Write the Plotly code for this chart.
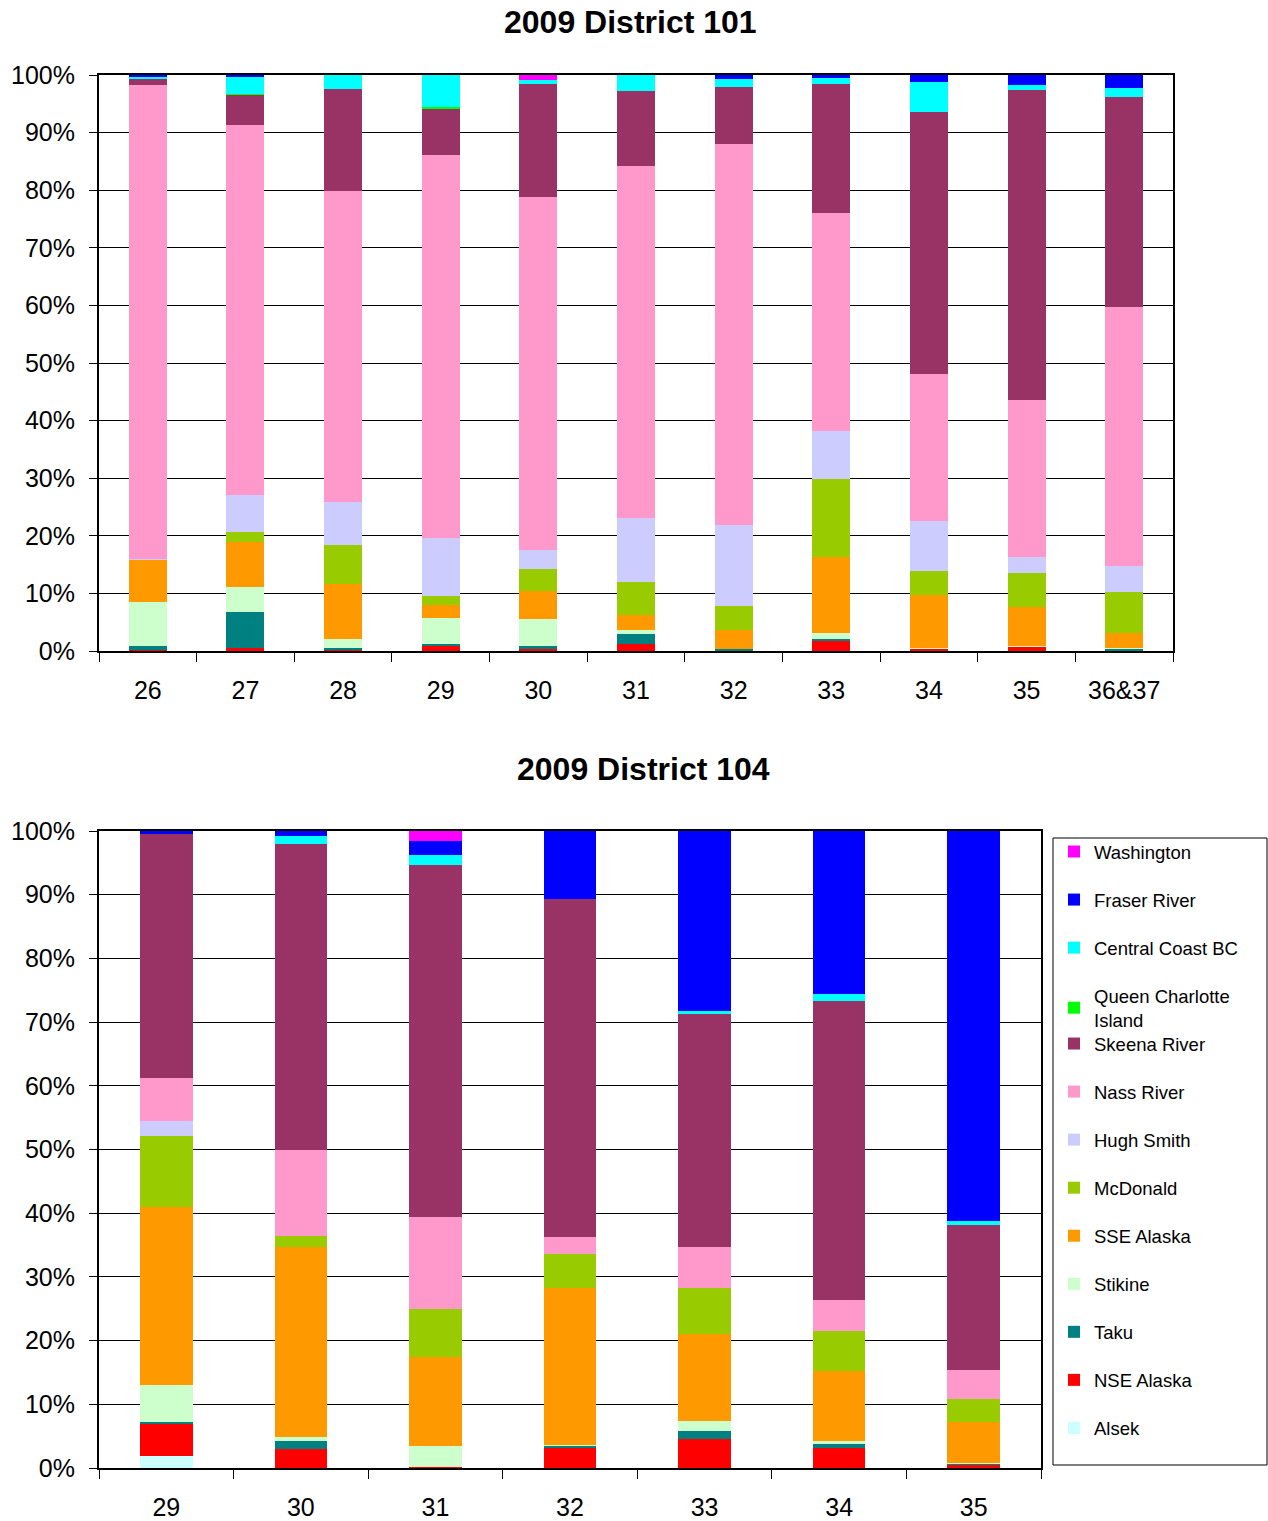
import plotly.graph_objects as go

# ---------------- data ----------------
series_names = ["Alsek", "NSE Alaska", "Taku", "Stikine", "SSE Alaska", "McDonald",
                "Hugh Smith", "Nass River", "Skeena River", "Queen Charlotte<br>Island",
                "Central Coast BC", "Fraser River", "Washington"]
series_colors = ["#CCFFFF", "#FF0000", "#008080", "#CCFFCC", "#FF9900", "#99CC00",
                 "#CCCCFF", "#FF99CC", "#993366", "#00FF00",
                 "#00FFFF", "#0000FF", "#FF00FF"]
# which legend block each series is listed in (the legend box is drawn as two stacked blocks)
series_legend = ["legend2"] * 9 + ["legend"] * 4

d101_categories = ["26", "27", "28", "29", "30", "31", "32", "33", "34", "35", "36&37"]
d101_alsek      = [0, 0, 0, 0, 0, 0, 0, 0, 0, 0, 0]
d101_nse        = [0.2, 0.6, 0.1, 0.8, 0.5, 1.3, 0, 1.8, 0.4, 0.7, 0]
d101_taku       = [0.7, 6.2, 0.5, 0.4, 0.3, 1.6, 0.3, 0.3, 0, 0, 0.4]
d101_stikine    = [7.6, 4.3, 1.5, 4.6, 4.7, 0.7, 0, 1.0, 0.1, 0.2, 0.2]
d101_sse        = [7.3, 7.9, 9.5, 2.2, 4.9, 2.6, 3.3, 13.2, 9.2, 6.7, 2.6]
d101_mcdonald   = [0, 1.7, 6.8, 1.6, 3.8, 5.8, 4.2, 13.6, 4.2, 5.9, 7.1]
d101_hughsmith  = [0.1, 6.3, 7.5, 10.1, 3.3, 11.1, 14.0, 8.3, 8.7, 2.9, 4.5]
d101_nass       = [82.3, 64.3, 54.0, 66.4, 61.3, 61.1, 66.2, 37.8, 25.5, 27.2, 44.9]
d101_skeena     = [1.2, 5.3, 17.6, 8.1, 19.6, 13.1, 10.0, 22.4, 45.5, 53.8, 36.4]
d101_qci        = [0, 0.1, 0, 0.2, 0, 0, 0, 0, 0, 0, 0]
d101_central    = [0.3, 2.9, 2.5, 5.6, 0.7, 2.7, 1.3, 1.1, 5.2, 0.9, 1.6]
d101_fraser     = [0.3, 0.4, 0, 0, 0, 0, 0.7, 0.5, 1.2, 1.7, 2.3]
d101_washington = [0, 0, 0, 0, 0.9, 0, 0, 0, 0, 0, 0]

d104_categories = ["29", "30", "31", "32", "33", "34", "35"]
d104_alsek      = [1.9, 0, 0, 0, 0, 0, 0]
d104_nse        = [5.0, 3.0, 0.2, 3.2, 4.5, 3.2, 0.5]
d104_taku       = [0.4, 1.2, 0, 0.3, 1.3, 0.6, 0.2]
d104_stikine    = [5.8, 0.6, 3.3, 0.1, 1.6, 0.5, 0.1]
d104_sse        = [27.9, 29.9, 13.9, 24.7, 13.6, 11.0, 6.4]
d104_mcdonald   = [11.1, 1.7, 7.6, 5.3, 7.3, 6.2, 3.6]
d104_hughsmith  = [2.4, 0, 0, 0, 0, 0, 0]
d104_nass       = [6.7, 13.5, 14.4, 2.7, 6.4, 4.9, 4.6]
d104_skeena     = [38.3, 48.1, 55.2, 53.0, 36.6, 46.9, 22.7]
d104_qci        = [0, 0, 0, 0, 0, 0, 0]
d104_central    = [0, 1.2, 1.6, 0, 0.4, 1.1, 0.7]
d104_fraser     = [0.5, 0.8, 2.2, 10.7, 28.3, 25.6, 61.2]
d104_washington = [0, 0, 1.6, 0, 0, 0, 0]

y_tick_values = [0, 10, 20, 30, 40, 50, 60, 70, 80, 90, 100]
y_tick_labels = ["0%", "10%", "20%", "30%", "40%", "50%", "60%", "70%", "80%", "90%", "100%"]

d101_series = [d101_alsek, d101_nse, d101_taku, d101_stikine, d101_sse, d101_mcdonald,
               d101_hughsmith, d101_nass, d101_skeena, d101_qci, d101_central,
               d101_fraser, d101_washington]
d104_series = [d104_alsek, d104_nse, d104_taku, d104_stikine, d104_sse, d104_mcdonald,
               d104_hughsmith, d104_nass, d104_skeena, d104_qci, d104_central,
               d104_fraser, d104_washington]

# ---------------- figure ----------------
W, H = 1268, 1521
fig = go.Figure()

n = len(series_names)
for i, (name, color, vals) in enumerate(zip(series_names, series_colors, d101_series)):
    fig.add_trace(go.Bar(x=d101_categories, y=vals, name=name, marker_color=color,
                         marker_line_width=0, legendgroup=name, showlegend=False,
                         xaxis="x", yaxis="y"))
for i, (name, color, vals) in enumerate(zip(series_names, series_colors, d104_series)):
    fig.add_trace(go.Bar(x=d104_categories, y=vals, name=name, marker_color=color,
                         marker_line_width=0, legendgroup=name, showlegend=True,
                         legend=series_legend[i], legendrank=n - i,
                         xaxis="x2", yaxis="y2"))

font = "Arial, Liberation Sans, sans-serif"
axis_common = dict(showline=True, mirror=True, linecolor="black", linewidth=2,
                   automargin=False)
xcommon = dict(type="category", tickson="boundaries", ticks="outside", ticklen=9,
               tickcolor="black", tickwidth=1, showgrid=False, ticklabelstandoff=16,
               tickfont=dict(family=font, size=25, color="black"), **axis_common)
ycommon = dict(range=[0, 100], tickvals=y_tick_values, ticktext=y_tick_labels,
               ticks="outside", ticklen=8, tickcolor="black", ticklabelstandoff=9,
               showgrid=True, gridcolor="black", gridwidth=1,
               tickfont=dict(family=font, size=25, color="black"), **axis_common)

def px_x(v):
    return v / W

def px_y(v):
    return 1 - v / H

legend_common = dict(xanchor="left", yanchor="top", borderwidth=0,
                     bgcolor="rgba(0,0,0,0)", traceorder="grouped", tracegroupgap=21,
                     font=dict(family=font, size=18.5, color="black"), itemwidth=30)

fig.update_layout(
    width=W, height=H,
    margin=dict(l=0, r=0, t=0, b=0, autoexpand=False),
    paper_bgcolor="white", plot_bgcolor="white",
    barmode="stack", barnorm="percent", bargap=0.61,
    font=dict(family=font, color="black"),
    xaxis=dict(domain=[px_x(99), px_x(1173)], anchor="y", **xcommon),
    yaxis=dict(domain=[px_y(651), px_y(75)], anchor="x", **ycommon),
    xaxis2=dict(domain=[px_x(99), px_x(1041)], anchor="y2", **xcommon),
    yaxis2=dict(domain=[px_y(1468), px_y(831)], anchor="x2", **ycommon),
    legend=dict(x=px_x(1054), y=px_y(833), **legend_common),
    legend2=dict(x=px_x(1054), y=px_y(1025), **legend_common),
    shapes=[
        dict(type="rect", xref="paper", yref="paper",
             x0=px_x(1053), x1=px_x(1267), y0=px_y(1465), y1=px_y(838),
             line=dict(color="black", width=1), fillcolor="rgba(0,0,0,0)"),
    ],
    annotations=[
        dict(text="<b>2009 District 101</b>", x=px_x(630), y=px_y(22), xref="paper", yref="paper",
             showarrow=False, xanchor="center", yanchor="middle",
             font=dict(family=font, size=32, color="black")),
        dict(text="<b>2009 District 104</b>", x=px_x(644), y=px_y(769), xref="paper", yref="paper",
             showarrow=False, xanchor="center", yanchor="middle",
             font=dict(family=font, size=32, color="black")),
    ],
)

fig.write_html("out.html", config={"displayModeBar": False},
               post_script="document.body.style.margin='0px';")
